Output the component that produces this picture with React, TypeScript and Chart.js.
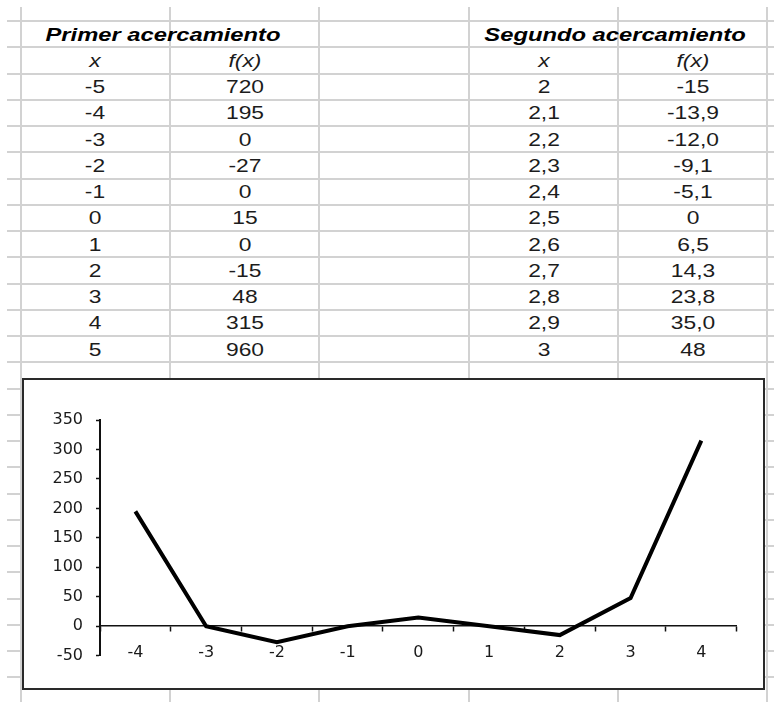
import React, { useEffect, useRef } from "react";
import { Chart, registerables } from "chart.js";

Chart.register(...registerables);

// First table: x from -5 to 5 and f(x)
const primerX: number[] = [-5, -4, -3, -2, -1, 0, 1, 2, 3, 4, 5];
const primerF: number[] = [720, 195, 0, -27, 0, 15, 0, -15, 48, 315, 960];

// Second table: finer steps between 2 and 3 (comma decimals)
const segundoX: string[] = ["2", "2,1", "2,2", "2,3", "2,4", "2,5", "2,6", "2,7", "2,8", "2,9", "3"];
const segundoF: string[] = ["-15", "-13,9", "-12,0", "-9,1", "-5,1", "0", "6,5", "14,3", "23,8", "35,0", "48"];

// The chart plots the first table from x = -4 to x = 4
const chartX: number[] = primerX.slice(1, 10);
const chartF: number[] = primerF.slice(1, 10);

// Y axis ticks
const yMin = -50;
const yMax = 350;
const yStep = 50;

// Sheet geometry
const ROW0 = 21;
const ROW_H = 26.25;
const COL_LINES = [20.5, 170, 319, 469, 618, 767];
const GRID_COLOR = "#d2d2d2";

const FONT_TABLE = "'Liberation Sans', Arial, sans-serif";
const FONT_CHART = "'DejaVu Sans', sans-serif";

function Cell(props: {
  cx: number;
  row: number;
  text: string;
  bold?: boolean;
  italic?: boolean;
}) {
  const cy = ROW0 + ROW_H * props.row + ROW_H / 2 + 0.5;
  return (
    <div
      style={{
        position: "absolute",
        left: props.cx,
        top: cy,
        transform: `translate(-50%, -50%) scaleX(${props.bold ? 1.25 : 1.2})`,
        whiteSpace: "nowrap",
        fontFamily: FONT_TABLE,
        fontSize: 19,
        lineHeight: "20px",
        fontWeight: props.bold ? 700 : 400,
        fontStyle: props.italic ? "italic" : "normal",
        color: props.bold ? "#000" : "#1c1c1c",
      }}
    >
      {props.text}
    </div>
  );
}

function LineChart() {
  const ref = useRef<HTMLCanvasElement | null>(null);

  useEffect(() => {
    if (!ref.current) return;
    const tickFont = { family: FONT_CHART, size: 16 };
    const chart = new Chart(ref.current, {
      type: "line",
      data: {
        labels: chartX.map((v) => String(v)),
        datasets: [
          {
            data: chartF,
            borderColor: "#000",
            borderWidth: 4,
            pointRadius: 0,
            pointHoverRadius: 0,
            tension: 0,
            fill: false,
          },
        ],
      },
      options: {
        animation: false,
        responsive: false,
        devicePixelRatio: 1,
        events: [],
        plugins: {
          legend: { display: false },
          tooltip: { enabled: false },
        },
        // the x axis sits on y = 0, so the space below the plot comes from padding
        layout: { padding: { left: 0, right: 26.3, top: 40, bottom: 32.3 } },
        scales: {
          x: {
            type: "category",
            offset: true,
            position: { y: 0 } as any,
            grid: {
              offset: true,
              drawOnChartArea: false,
              drawTicks: true,
              tickLength: 5,
              tickColor: "#111",
              tickWidth: 1.5,
            },
            border: { display: true, color: "#111", width: 1.5 },
            ticks: {
              color: "#1a1a1a",
              font: tickFont,
              padding: 12,
              autoSkip: false,
              maxRotation: 0,
            },
          },
          y: {
            min: yMin,
            max: yMax,
            grid: {
              drawOnChartArea: false,
              drawTicks: true,
              tickLength: 4,
              tickColor: "#111",
              tickWidth: 1.5,
            },
            border: { display: true, color: "#111", width: 2 },
            ticks: {
              stepSize: yStep,
              color: "#1a1a1a",
              font: tickFont,
              padding: 13,
            },
            afterFit: (s: any) => {
              s.width = 76;
            },
          },
        },
      },
    });
    return () => chart.destroy();
  }, []);

  return <canvas ref={ref} width={739} height={308} style={{ display: "block", width: 739, height: 308 }} />;
}

export default function App() {
  const rowLines: number[] = [];
  for (let y = ROW0; y < 702; y += ROW_H) rowLines.push(Math.round(y));

  const col1 = (COL_LINES[0] + COL_LINES[1]) / 2;
  const col2 = (COL_LINES[1] + COL_LINES[2]) / 2;
  const col4 = (COL_LINES[3] + COL_LINES[4]) / 2;
  const col5 = (COL_LINES[4] + COL_LINES[5]) / 2;

  return (
    <div
      style={{
        position: "absolute",
        left: 0,
        top: 0,
        width: 774,
        height: 702,
        overflow: "hidden",
        background: "#fff",
      }}
    >
      {rowLines.map((y, i) => (
        <div
          key={"r" + i}
          style={{ position: "absolute", left: 7, right: 0, top: y - 1, height: 2, background: GRID_COLOR }}
        />
      ))}
      {COL_LINES.map((x, i) => (
        <div
          key={"c" + i}
          style={{ position: "absolute", left: Math.round(x) - 1, width: 2, top: 7, bottom: 0, background: GRID_COLOR }}
        />
      ))}

      <Cell cx={163} row={0} text="Primer acercamiento" bold italic />
      <Cell cx={615} row={0} text="Segundo acercamiento" bold italic />
      <Cell cx={col1} row={1} text="x" italic />
      <Cell cx={col2} row={1} text="f(x)" italic />
      <Cell cx={col4} row={1} text="x" italic />
      <Cell cx={col5} row={1} text="f(x)" italic />

      {primerX.map((x, i) => (
        <React.Fragment key={"p" + i}>
          <Cell cx={col1} row={i + 2} text={String(x)} />
          <Cell cx={col2} row={i + 2} text={String(primerF[i])} />
        </React.Fragment>
      ))}
      {segundoX.map((x, i) => (
        <React.Fragment key={"s" + i}>
          <Cell cx={col4} row={i + 2} text={x} />
          <Cell cx={col5} row={i + 2} text={segundoF[i]} />
        </React.Fragment>
      ))}

      <div
        style={{
          position: "absolute",
          left: 22,
          top: 378,
          width: 739,
          height: 308,
          border: "2px solid #2a2a2a",
          background: "#fff",
        }}
      >
        <LineChart />
      </div>
    </div>
  );
}
